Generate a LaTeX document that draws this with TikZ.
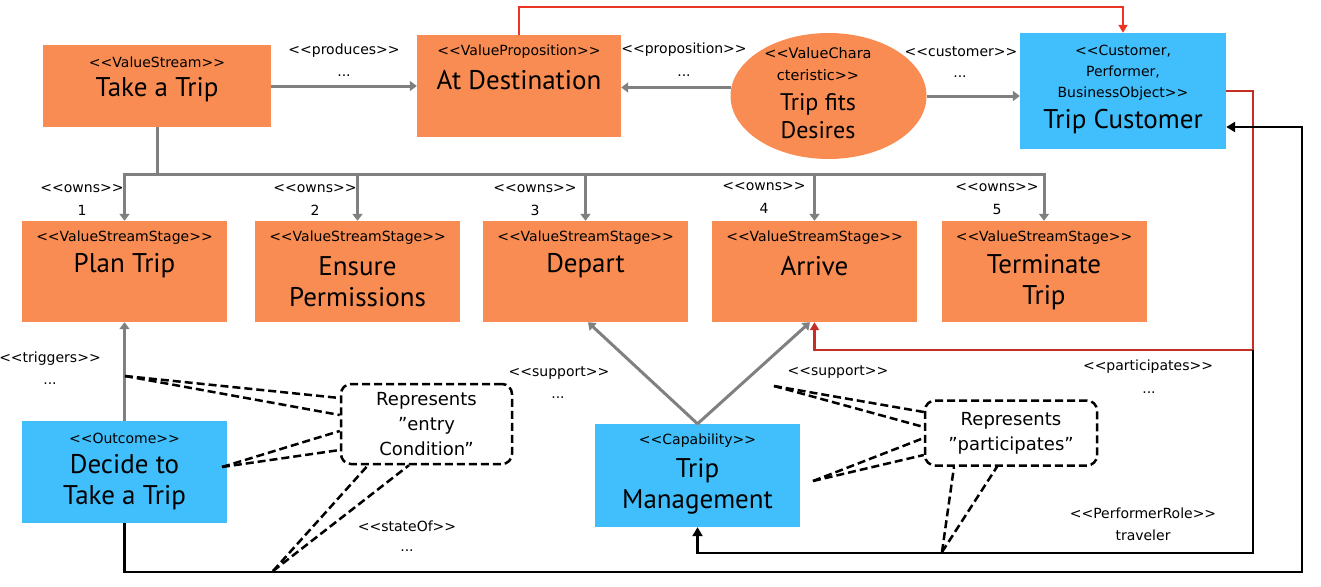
\documentclass[tikz,border=0pt]{standalone}
\usepackage{fontspec}
\setmainfont{PT Sans}
\newfontfamily\smallfont{DejaVu Sans}
\usetikzlibrary{shapes.geometric,arrows.meta,calc}
\definecolor{myorange}{RGB}{248,140,82}
\definecolor{myblue}{RGB}{64,191,252}
\definecolor{mygrey}{RGB}{128,128,128}
\definecolor{myred}{RGB}{236,52,36}
\definecolor{mydarkred}{RGB}{196,46,36}
\newcommand{\ltlt}{<\kern0pt<}
\newcommand{\gtgt}{>\kern0pt>}
\begin{document}
\begin{tikzpicture}[x=1pt,y=-1pt,
  obox/.style={fill=myorange, rectangle, inner sep=0pt},
  bbox/.style={fill=myblue, rectangle, inner sep=0pt},
  stereo/.style={font=\smallfont\fontsize{14}{21}\selectfont, align=center, inner sep=0pt},
  ttl/.style={font=\fontsize{27}{31}\selectfont, align=center, inner sep=0pt},
  lbl/.style={font=\smallfont\fontsize{14}{17}\selectfont, inner sep=0pt},
  gline/.style={draw=mygrey, line width=3pt},
  garrow/.style={gline, -{Triangle[width=10pt,length=7pt]}},
  rarrow/.style={line width=2.5pt, -{Triangle[width=9pt,length=8pt]}},
  karrow/.style={draw=black, line width=2.5pt, -{Triangle[width=10pt,length=9pt]}},
  callout/.style={draw=black, line width=2.5pt, dash pattern=on 8pt off 4pt, rounded corners=10pt, rectangle, inner sep=0pt, align=center, font=\smallfont\fontsize{18}{25}\selectfont},
  tail/.style={draw=black, line width=2.5pt, dash pattern=on 8pt off 4pt}
]
\useasboundingbox (0,0) rectangle (1321,586);

% ---- top row
\node[obox, minimum width=228pt, minimum height=82pt] (vs) at (157,86) {};
\node[stereo] (vs-s) at (157,62) {\ltlt ValueStream\gtgt};
\node[ttl] (vs-t) at (157,90) {Take a Trip};

\node[obox, minimum width=204pt, minimum height=102pt] (ad) at (519,86) {};
\node[stereo] (ad-s) at (519,52) {\ltlt ValueProposition\gtgt};
\node[ttl] (ad-t) at (519,80) {At Destination};

\node[ellipse, fill=myorange, inner sep=0pt, minimum width=196pt, minimum height=126pt] (vc) at (828.5,96) {};
\node[stereo, font=\smallfont\fontsize{14.5}{22}\selectfont] (vc-s) at (818,64) {\ltlt ValueChara\\cteristic\gtgt};
\node[ttl, font=\fontsize{24}{28}\selectfont] (vc-t) at (818,116) {Trip fits\\Desires};

\node[bbox, minimum width=206pt, minimum height=116pt] (tc) at (1123,91) {};
\node[stereo] (tc-s) at (1123,73) {\ltlt Customer,\\Performer,\\BusinessObject\gtgt};
\node[ttl] (tc-t) at (1123,122) {Trip Customer};

% ---- stages
\foreach \n/\x in {plan/124.5, ens/357.5, dep/585.5, arr/814.5, ter/1044}{
  \node[obox, minimum width=205pt, minimum height=101pt] (\n) at (\x,271.5) {};
  \node[stereo] (\n-s) at (\x,238) {\ltlt ValueStreamStage\gtgt};
}
\node[ttl] (plan-t) at (124.5,266) {Plan Trip};
\node[ttl] (ens-t) at (357.5,282) {Ensure\\Permissions};
\node[ttl] (dep-t) at (585.5,266) {Depart};
\node[ttl] (arr-t) at (814.5,266) {Arrive};
\node[ttl] (ter-t) at (1044,282) {Terminate\\Trip};

% ---- bottom row
\node[bbox, minimum width=205pt, minimum height=102pt] (dec) at (124.5,472) {};
\node[stereo] (dec-s) at (124.5,438) {\ltlt Outcome\gtgt};
\node[ttl] (dec-t) at (124.5,482.5) {Decide to\\Take a Trip};

\node[bbox, minimum width=205pt, minimum height=103pt] (tm) at (697.5,475.5) {};
\node[stereo] (tm-s) at (697.5,441) {\ltlt Capability\gtgt};
\node[ttl] (tm-t) at (697.5,486) {Trip\\Management};

% ---- callouts
\node[callout, minimum width=171pt, minimum height=80pt] (c1) at (426.5,424) {Represents\\”entry\\Condition”};
\node[callout, minimum width=172pt, minimum height=65pt] (c2) at (1011,433) {Represents\\”participates”};

% ---- grey connectors
\draw[garrow] (vs.east) -- (ad.west);
\draw[garrow] (vc.175) -- (ad.east |- vc.175);
\draw[garrow] (vc.east) -- (tc.west |- vc.east);
\coordinate (bus) at (157,174);
\draw[gline] (vs.south) -- (bus);
\foreach \n in {plan,ens,dep,arr,ter}{
  \draw[garrow] (bus) -| (\n.north);
}
\draw[garrow] (dec.north) -- (plan.south);
\draw[garrow] (tm.north) -- ([xshift=2.5pt]dep.south);
\draw[garrow] (tm.north) -- ([xshift=-4.5pt]arr.south);

% ---- red connectors
\coordinate (redtop) at (820,7);
\draw[rarrow, draw=myred] (ad.north) |- (redtop) -| (tc.north);
\coordinate (rc) at (1253,350);
\draw[rarrow, draw=mydarkred] (tc.east) -| (rc) -| (arr.south);

% ---- black connectors
\coordinate (pb) at (1253,553);
\draw[karrow] (rc) -- (pb) -| (tm.south);
\coordinate (sb) at (1302,572);
\draw[karrow] (dec.south) |- (sb) |- ([yshift=-36pt]tc.east);

% ---- callout tails
\coordinate (t1) at (125,376);
\draw[tail] (t1) -- (c1.west |- 0,398);
\draw[tail] (t1) -- (c1.west |- 0,415);
\coordinate (t2) at (222,467);
\draw[tail] (t2) -- (c1.west |- 0,431);
\draw[tail] (t2) -- (c1.west |- 0,450);
\coordinate (t3) at (273,571);
\draw[tail] (t3) -- (c1.south -| 368,0);
\draw[tail] (t3) -- (c1.south -| 409,0);
\coordinate (t4) at (774,386);
\draw[tail] (t4) -- (c2.west |- 0,412);
\draw[tail] (t4) -- (c2.west |- 0,427);
\coordinate (t5) at (813,481);
\draw[tail] (t5) -- (c2.west |- 0,438);
\draw[tail] (t5) -- (c2.west |- 0,455);
\coordinate (t6) at (942,552);
\draw[tail] (t6) -- (c2.south -| 954,0);
\draw[tail] (t6) -- (c2.south -| 997,0);

% ---- labels
\node[lbl] (l-prod) at (344,51) {\ltlt produces\gtgt};
\node[lbl] (l-prod-d) at (344,76) {...};
\node[lbl] (l-prop) at (684,50) {\ltlt proposition\gtgt};
\node[lbl] (l-prop-d) at (684,76) {...};
\node[lbl] (l-cust) at (961,52) {\ltlt customer\gtgt};
\node[lbl] (l-cust-d) at (960,77) {...};
\foreach \i/\x/\y in {1/82/189, 2/315/189, 3/535/189, 4/764/187, 5/997/188}{
  \node[lbl] (l-own\i) at (\x,\y) {\ltlt owns\gtgt};
  \node[lbl] (l-num\i) at (\x,\y+21) {\i};
}
\node[lbl] (l-trig) at (50,359) {\ltlt triggers\gtgt};
\node[lbl] (l-trig-d) at (50,384) {...};
\node[lbl] (l-sup1) at (559,373) {\ltlt support\gtgt};
\node[lbl] (l-sup1-d) at (558,398) {...};
\node[lbl] (l-sup2) at (838,372) {\ltlt support\gtgt};
\node[lbl] (l-part) at (1148,367) {\ltlt participates\gtgt};
\node[lbl] (l-part-d) at (1149,393) {...};
\node[lbl] (l-perf) at (1143,513) {\ltlt PerformerRole\gtgt};
\node[lbl] (l-trav) at (1143,535) {traveler};
\node[lbl] (l-state) at (407,526) {\ltlt stateOf\gtgt};
\node[lbl] (l-state-d) at (407,551) {...};
\end{tikzpicture}
\end{document}
